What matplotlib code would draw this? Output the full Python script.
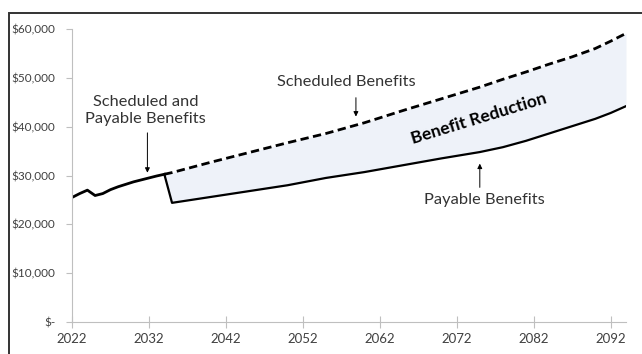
import matplotlib.pyplot as plt
from matplotlib.patches import Rectangle

plt.rcParams['font.family'] = ['Lato', 'DejaVu Sans']

# combined scheduled = payable up to 2034
early_years = [2022, 2023, 2024, 2025, 2026, 2027, 2028, 2029, 2030, 2031, 2032, 2033, 2034]
early_vals = [25500, 26300, 27000, 25900, 26300, 27100, 27700, 28200, 28700, 29100, 29500, 29900, 30250]

# after 2034: scheduled vs payable
years = [2034, 2035, 2040, 2045, 2050, 2055, 2060, 2065, 2070, 2075, 2078, 2081, 2084, 2087, 2090, 2092, 2094]
sched_vals = [30250, 30600, 32700, 34700, 36700, 38600, 40800, 43300, 45700, 48100, 49700, 51200,
              52800, 54300, 56000, 57500, 59100]
pay_vals = [30250, 24400, 25600, 26800, 28000, 29500, 30700, 32100, 33500, 34800, 35800, 37100,
            38600, 40100, 41600, 42800, 44200]

xticks = [2022, 2032, 2042, 2052, 2062, 2072, 2082, 2092]
yticks = [0, 10000, 20000, 30000, 40000, 50000, 60000]
ylabels = ['$-', '$10,000', '$20,000', '$30,000', '$40,000', '$50,000', '$60,000']

fig = plt.figure(figsize=(6.42, 3.54), dpi=100)
ax = fig.add_axes([72 / 642, 1 - 322 / 354, 554 / 642, 293 / 354])

# outer frame (cut at right/bottom like the original)
fig.patches.append(Rectangle((9 / 642, -0.1), 1.2, 1 - 13 / 354 + 0.1, transform=fig.transFigure,
                             fill=False, edgecolor='#333333', lw=1.4))

ax.fill_between(years, sched_vals, pay_vals, color='#EEF2F9', lw=0)
ax.plot(early_years, early_vals, color='black', lw=2)
ax.plot(years, sched_vals, color='black', lw=2, ls=(0, (3, 1.6)))
ax.plot(years, pay_vals, color='black', lw=1.6)

ax.set_xlim(2022, 2094)
ax.set_ylim(0, 60000)
ax.set_xticks(xticks)
ax.set_yticks(yticks)
ax.set_yticklabels(ylabels)
for s in ['top', 'right']:
    ax.spines[s].set_visible(False)
for s in ['left', 'bottom']:
    ax.spines[s].set_color('#BFBFBF')
    ax.spines[s].set_linewidth(0.8)
ax.tick_params(axis='y', direction='out', length=4, color='#BFBFBF', labelsize=8.5, labelcolor='#404040', pad=8)
ax.tick_params(axis='x', direction='inout', length=8, color='#BFBFBF', labelsize=9.5, labelcolor='#404040', pad=4)

txt = dict(fontsize=11.8, color='#333333', ha='center', va='center')
ax.text(2031.6, 43300, 'Scheduled and\nPayable Benefits', linespacing=1.25, **txt)
ax.annotate('', xy=(2031.8, 30000), xytext=(2031.8, 39300),
            arrowprops=dict(arrowstyle='-|>', color='black', lw=0.7, mutation_scale=7))
ax.text(2057.7, 49150, 'Scheduled Benefits', **txt)
ax.annotate('', xy=(2058.9, 41500), xytext=(2058.9, 46500),
            arrowprops=dict(arrowstyle='-|>', color='black', lw=0.7, mutation_scale=7))
ax.text(2075.6, 25000, 'Payable Benefits', **txt)
ax.annotate('', xy=(2075, 33000), xytext=(2075, 27000),
            arrowprops=dict(arrowstyle='-|>', color='black', lw=0.7, mutation_scale=7))
ax.text(2074.9, 41600, 'Benefit Reduction', fontsize=12.5, fontweight='bold', color='black',
        ha='center', va='center', rotation=17)

fig.savefig('out.png', dpi=100)
